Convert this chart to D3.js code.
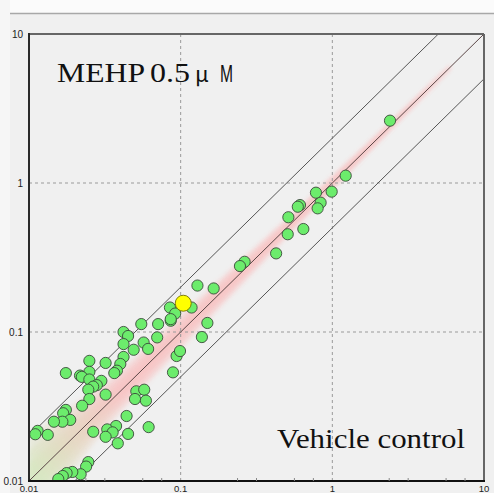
<!DOCTYPE html>
<html>
<head>
<meta charset="utf-8">
<script src="https://cdn.jsdelivr.net/npm/d3@7"></script>
<style>
  body { margin: 0; background: #f0f0f0; }
  svg { display: block; }
</style>
</head>
<body>
<div class="main"></div>
<script>
// scatter values (x = vehicle control, y = MEHP 0.5 uM)
let xValues = [
  0.042, 0.045, 0.055, 0.071, 0.086, 0.070, 0.042, 0.057, 0.061, 0.049,
  0.025, 0.032, 0.042, 0.040, 0.038, 0.0365, 0.025, 0.0175, 0.0217, 0.0223,
  0.025, 0.030, 0.028, 0.0265, 0.0246, 0.032, 0.025, 0.0224, 0.051, 0.0575,
  0.050, 0.059, 0.0175, 0.0168, 0.0187, 0.0166, 0.0146, 0.0114, 0.011, 0.0133,
  0.044, 0.0265, 0.0375, 0.0328, 0.0356, 0.032, 0.045, 0.0385, 0.0615, 0.0246,
  0.0238, 0.0219, 0.0193, 0.0177, 0.0167, 0.0156, 0.094, 0.099, 0.089, 0.138,
  0.612, 0.592, 0.837, 0.80, 0.513, 0.644, 0.508, 0.426, 0.264, 0.246,
  0.129, 0.165, 0.085, 0.118, 0.092, 0.086, 0.150, 2.40, 1.225, 0.99, 0.78
];
let yValues = [
  0.100, 0.094, 0.113, 0.113, 0.119, 0.092, 0.083, 0.085, 0.077, 0.076,
  0.064, 0.062, 0.068, 0.061, 0.055, 0.053, 0.054, 0.053, 0.051, 0.050,
  0.048, 0.047, 0.044, 0.043, 0.041, 0.038, 0.0355, 0.032, 0.040, 0.041,
  0.0355, 0.0346, 0.030, 0.0285, 0.0257, 0.025, 0.025, 0.0217, 0.0206, 0.0204,
  0.0273, 0.0214, 0.0234, 0.0222, 0.0212, 0.0198, 0.0207, 0.0179, 0.023, 0.0134,
  0.0125, 0.0111, 0.0115, 0.0113, 0.0108, 0.0103, 0.069, 0.0745, 0.0536, 0.0925,
  0.711, 0.693, 0.738, 0.676, 0.589, 0.491, 0.453, 0.337, 0.296, 0.277,
  0.205, 0.196, 0.146, 0.146, 0.133, 0.122, 0.115, 2.62, 1.12, 0.875, 0.861
];
// highlighted gene
let markX = [0.104];
let markY = [0.156];

// background cloud of all probes: centre x and fold spread
let bandX = [0.01, 0.015, 0.02, 0.03, 0.05, 0.1, 0.2, 0.5, 1, 2, 4, 6];
let bandSpread = [1.95, 1.8, 1.65, 1.45, 1.36, 1.3, 1.24, 1.16, 1.12, 1.08, 1.05, 1.03];

let foldLines = [1, 2, 0.5];
let tickValues = [0.01, 0.1, 1, 10];
let tickLabels = ['0.01', '0.1', '1', '10'];
let gridValues = [0.1, 1];
let minorFractions = [0.375, 0.5, 0.75, 0.875];

let opts = {
  width: 494,
  height: 493,
  left: 29,
  right: 484,
  top: 34,
  bottom: 481
};

let svg = d3.select('.main').append('svg')
  .attr('width', opts.width)
  .attr('height', opts.height);

let x = d3.scaleLog().domain([0.01, 10]).range([opts.left, opts.right]);
let y = d3.scaleLog().domain([0.01, 10]).range([opts.bottom, opts.top]);

// page background
svg.append('rect').attr('width', opts.width).attr('height', opts.height).attr('fill', '#f0f0f0');
svg.append('rect').attr('width', opts.width).attr('height', 13).attr('fill', '#fbfbfb');
svg.append('rect').attr('width', 10).attr('height', opts.height).attr('fill', '#f6f6f6');
svg.append('line')
  .attr('x1', 10).attr('x2', opts.width).attr('y1', 13.5).attr('y2', 13.5)
  .attr('stroke', '#a8a8a8').attr('stroke-width', 1.5);

let defs = svg.append('defs');
defs.append('clipPath').attr('id', 'plotClip').append('rect')
  .attr('x', opts.left).attr('y', opts.top)
  .attr('width', opts.right - opts.left).attr('height', opts.bottom - opts.top);
defs.append('filter').attr('id', 'soft').attr('x', '-10%').attr('y', '-10%').attr('width', '120%').attr('height', '120%')
  .append('feGaussianBlur').attr('stdDeviation', 2);
let grad = defs.append('linearGradient').attr('id', 'bandGrad')
  .attr('gradientUnits', 'userSpaceOnUse')
  .attr('x1', x(0.01)).attr('y1', y(0.01))
  .attr('x2', x(0.04)).attr('y2', y(0.04));
grad.append('stop').attr('offset', 0).attr('stop-color', '#d4eac0');
grad.append('stop').attr('offset', 1).attr('stop-color', '#f8c2c2');

let plot = svg.append('g').attr('clip-path', 'url(#plotClip)');

// probe cloud drawn as nested soft bands
let bandData = bandX.map((v, i) => ({ x: v, s: bandSpread[i] }));
let bandArea = (power) => d3.area()
  .x(d => x(d.x))
  .y0(d => y(d.x / Math.pow(d.s, power)))
  .y1(d => y(d.x * Math.pow(d.s, power)))
  .curve(d3.curveMonotoneX);

[[1, 0.45], [0.7, 0.55], [0.4, 0.65]].forEach(([p, o]) => {
  plot.append('path')
    .datum(bandData)
    .attr('d', bandArea(p))
    .attr('fill', 'url(#bandGrad)')
    .attr('opacity', o)
    .attr('filter', 'url(#soft)');
});

// grid
plot.selectAll('.gridX').data(gridValues).enter().append('line')
  .attr('x1', d => x(d)).attr('x2', d => x(d))
  .attr('y1', opts.top).attr('y2', opts.bottom)
  .attr('stroke', '#9a9a9a').attr('stroke-dasharray', '3,3');
plot.selectAll('.gridY').data(gridValues).enter().append('line')
  .attr('x1', opts.left).attr('x2', opts.right)
  .attr('y1', d => y(d)).attr('y2', d => y(d))
  .attr('stroke', '#9a9a9a').attr('stroke-dasharray', '3,3');

// fold lines
let lineX = [0.001, 100];
foldLines.forEach(f => {
  plot.append('path')
    .datum(lineX)
    .attr('d', d3.line().x(d => x(d)).y(d => y(d * f)))
    .attr('fill', 'none')
    .attr('stroke', f === 1 ? '#5a4646' : '#555')
    .attr('stroke-width', 1);
});

// points
let points = xValues.map((v, i) => ({ x: v, y: yValues[i] }));
plot.selectAll('.gene').data(points).enter().append('circle')
  .attr('class', 'gene')
  .attr('cx', d => x(d.x))
  .attr('cy', d => y(d.y))
  .attr('r', 5.6)
  .attr('fill', '#6cec6c')
  .attr('stroke', '#3a4a3a')
  .attr('stroke-width', 0.9);

plot.selectAll('.mark').data(markX).enter().append('circle')
  .attr('class', 'mark')
  .attr('cx', d => x(d))
  .attr('cy', (d, i) => y(markY[i]))
  .attr('r', 8)
  .attr('fill', '#ffff00')
  .attr('stroke', '#707000')
  .attr('stroke-width', 0.9);

// frame
svg.append('line').attr('x1', opts.left).attr('x2', opts.right).attr('y1', opts.top).attr('y2', opts.top)
  .attr('stroke', '#666').attr('stroke-width', 2);
svg.append('line').attr('x1', opts.right).attr('x2', opts.right).attr('y1', opts.top).attr('y2', opts.bottom)
  .attr('stroke', '#666').attr('stroke-width', 2);
svg.append('line').attr('x1', opts.left).attr('x2', opts.left).attr('y1', opts.top - 1).attr('y2', opts.bottom)
  .attr('stroke', '#2a2a2a').attr('stroke-width', 2);
svg.append('line').attr('x1', opts.left - 1).attr('x2', opts.right + 1).attr('y1', opts.bottom).attr('y2', opts.bottom)
  .attr('stroke', '#111').attr('stroke-width', 2);

// minor ticks on the x axis
let minorTicks = [];
tickValues.slice(0, 3).forEach(t => minorFractions.forEach(f => minorTicks.push(t * Math.pow(10, f))));
svg.selectAll('.minor').data(minorTicks).enter().append('line')
  .attr('x1', d => x(d)).attr('x2', d => x(d))
  .attr('y1', opts.bottom).attr('y2', opts.bottom - 3)
  .attr('stroke', '#888').attr('stroke-width', 1);

// tick labels
let labelFont = "'Liberation Sans Narrow', 'Liberation Sans', sans-serif";
svg.selectAll('.xLabel').data(tickValues).enter().append('text')
  .attr('x', d => x(d))
  .attr('y', 492)
  .attr('text-anchor', 'middle')
  .attr('font-family', labelFont)
  .attr('font-size', 9.5)
  .attr('fill', '#222')
  .text((d, i) => tickLabels[i]);
svg.selectAll('.yLabel').data(tickValues).enter().append('text')
  .attr('x', 23)
  .attr('y', d => y(d) + 3.5)
  .attr('text-anchor', 'end')
  .attr('font-family', labelFont)
  .attr('font-size', 10)
  .attr('fill', '#222')
  .text((d, i) => tickLabels[i]);

// titles
let title = svg.append('text')
  .attr('y', 82)
  .attr('font-family', "'Liberation Serif', 'DejaVu Serif', serif")
  .attr('font-size', 27)
  .attr('fill', '#111');
title.append('tspan').attr('x', 57).attr('textLength', 88).attr('lengthAdjust', 'spacingAndGlyphs').text('MEHP');
title.append('tspan').attr('x', 150).attr('textLength', 40).attr('lengthAdjust', 'spacingAndGlyphs').text('0.5');
title.append('tspan').attr('x', 195).attr('font-family', "'Noto Sans CJK JP', sans-serif").attr('font-size', 22).text('μ');
title.append('tspan').attr('x', 220).attr('font-family', "'Liberation Sans Narrow', 'Liberation Sans', sans-serif")
  .attr('font-size', 24).attr('font-weight', 300).attr('textLength', 13).attr('lengthAdjust', 'spacingAndGlyphs').text('M');

svg.append('text')
  .attr('x', 277)
  .attr('y', 448)
  .attr('font-family', "'Liberation Serif', 'DejaVu Serif', serif")
  .attr('font-size', 27)
  .attr('fill', '#111')
  .attr('textLength', 188)
  .attr('lengthAdjust', 'spacingAndGlyphs')
  .text('Vehicle control');
</script>
</body>
</html>
